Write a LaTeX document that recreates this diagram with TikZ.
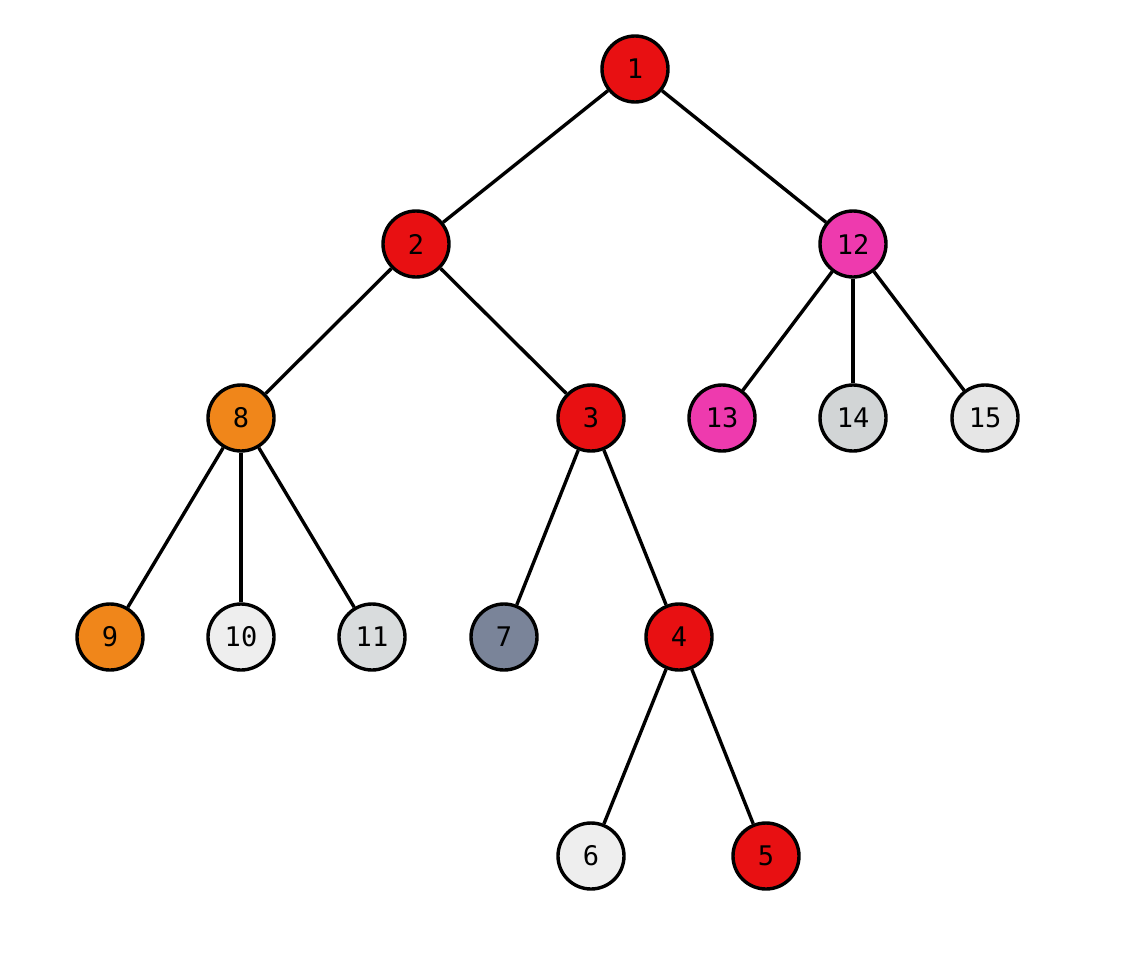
\documentclass[tikz,border=0pt]{standalone}
\usepackage{fontspec}
\setmonofont{DejaVu Sans Mono}
\definecolor{cred}{HTML}{E81012}
\definecolor{corange}{HTML}{F0861A}
\definecolor{cpink}{HTML}{EE3AAE}
\definecolor{cslate}{HTML}{7A8499}
\definecolor{cgreyA}{HTML}{D2D5D6}
\definecolor{cgreyB}{HTML}{D9DCDD}
\definecolor{cgreyC}{HTML}{E6E6E6}
\definecolor{cgreyD}{HTML}{EEEEEE}
\tikzset{
  every picture/.style={line width=3.4pt},
  vert/.style={circle, draw=black, fill=#1, minimum size=66pt, inner sep=0pt, font=\ttfamily\fontsize{27}{27}\selectfont},
  vert/.default=cgreyD,
  edge/.style={draw=black, line width=3.4pt},
}

\begin{document}
\begin{tikzpicture}[x=1pt, y=-1pt]
  \useasboundingbox (0,0) rectangle (1132,964);
  % ---------------- vertices
  \node[vert=cred] (n1) at (635,69) {1};
  \node[vert=cred] (n2) at (416,244) {2};
  \node[vert=cpink] (n12) at (853,244) {12};
  \node[vert=corange] (n8) at (241,418) {8};
  \node[vert=cred] (n3) at (591,418) {3};
  \node[vert=cpink] (n13) at (722,418) {13};
  \node[vert=cgreyA] (n14) at (853,418) {14};
  \node[vert=cgreyC] (n15) at (985,418) {15};
  \node[vert=corange] (n9) at (110,637) {9};
  \node[vert=cgreyD] (n10) at (241,637) {10};
  \node[vert=cgreyB] (n11) at (372,637) {11};
  \node[vert=cslate] (n7) at (504,637) {7};
  \node[vert=cred] (n4) at (679,637) {4};
  \node[vert=cgreyD] (n6) at (591,856) {6};
  \node[vert=cred] (n5) at (766,856) {5};
  % ---------------- edges
  \foreach \a/\b in {n1/n2, n1/n12, n2/n8, n2/n3, n12/n13, n12/n14, n12/n15,
                     n8/n9, n8/n10, n8/n11, n3/n7, n3/n4, n4/n6, n4/n5}
    \draw[edge] (\a) -- (\b);
\end{tikzpicture}
\end{document}
